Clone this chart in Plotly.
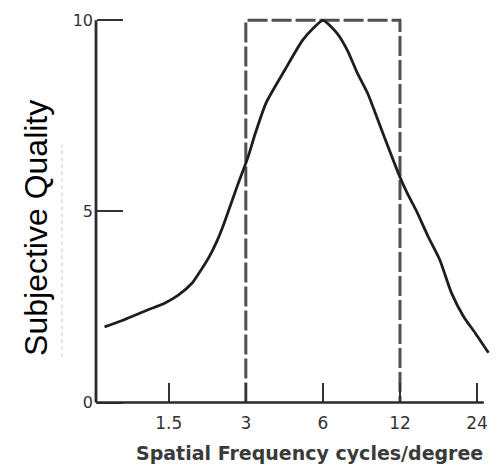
import plotly.graph_objects as go

# Data (frequency in cycles/degree, subjective quality 0-10)
freq = [0.842, 0.999, 1.239, 1.445, 1.635, 1.848, 1.967, 2.157, 2.295, 2.439, 2.547, 2.79, 3.06,
        3.27, 3.60, 4.26, 5.00, 5.50, 6.0, 6.82, 7.47, 8.19, 8.97, 9.84, 10.78, 11.82, 12.82,
        13.85, 15.49, 17.17, 19.06, 21.3, 23.6, 26.6]
quality = [1.98, 2.16, 2.42, 2.60, 2.81, 3.12, 3.38, 3.81, 4.17, 4.60, 4.95, 5.70, 6.42,
           7.05, 7.84, 8.70, 9.48, 9.79, 10.0, 9.66, 9.22, 8.61, 8.09, 7.39, 6.69, 6.00, 5.47,
           5.04, 4.33, 3.73, 2.87, 2.24, 1.82, 1.30]

band_x = [3, 3, 12, 12]
band_y = [0, 10, 10, 0]

x_ticks = [1.5, 3, 6, 12, 24]
x_ticktext = ["1.5", "3", "6", "12", "24"]
y_ticks = [0, 5, 10]
y_ticktext = ["0", "5", "10"]

x_axis_start = 0.78
x_axis_end = 25.5

fig = go.Figure()

fig.add_trace(go.Scatter(x=band_x, y=band_y, mode="lines",
                         line=dict(color="#505050", width=3, dash="20px,4px"),
                         hoverinfo="skip", showlegend=False))
fig.add_trace(go.Scatter(x=freq, y=quality, mode="lines",
                         line=dict(color="#1e1e1e", width=2.8, shape="spline", smoothing=0.6),
                         showlegend=False))

# axis lines
fig.add_shape(type="line", xref="x", yref="y", x0=x_axis_start, x1=x_axis_start, y0=0, y1=10,
              line=dict(color="#2a2a2a", width=2.8))
fig.add_shape(type="line", xref="x", yref="y", x0=x_axis_start, x1=x_axis_end, y0=0, y1=0,
              line=dict(color="#2a2a2a", width=2.6))
# faint scan artefact line
fig.add_shape(type="line", xref="paper", yref="paper", x0=-0.0584, x1=-0.0584, y0=0.139, y1=0.658,
              line=dict(color="#c8c8c8", width=1, dash="4px,3px"))

fig.update_layout(
    width=497, height=467,
    margin=dict(l=86, r=0, t=5, b=53),
    plot_bgcolor="white", paper_bgcolor="white",
    xaxis=dict(type="log", range=[-0.147, 1.458], showgrid=False, zeroline=False, showline=False,
               tickvals=x_ticks, ticktext=x_ticktext, ticks="inside", ticklen=20, tickwidth=2,
               tickcolor="#333", anchor="free", position=0.027, ticklabelstandoff=8,
               tickfont=dict(family="DejaVu Sans", size=17, color="#333")),
    yaxis=dict(range=[-0.3, 10.4], showgrid=False, zeroline=False, showline=False,
               tickvals=y_ticks, ticktext=y_ticktext, ticks="inside", ticklen=26, tickwidth=2,
               tickcolor="#333", anchor="free", position=0.0243, ticklabelstandoff=3,
               tickfont=dict(family="DejaVu Sans", size=16, color="#333")),
    annotations=[
        dict(text="Subjective Quality", xref="paper", yref="paper", x=-0.1217, y=0.455,
             showarrow=False, textangle=-90, xanchor="center", yanchor="middle",
             font=dict(family="Liberation Sans", size=32, color="black")),
        dict(text="Spatial Frequency cycles/degree", xref="paper", yref="paper", x=0.545, y=-0.0954,
             showarrow=False, xanchor="center", yanchor="middle",
             font=dict(family="DejaVu Sans", size=19, color="#3a3a3a", weight="bold")),
    ],
)

fig.write_html("out.html")
